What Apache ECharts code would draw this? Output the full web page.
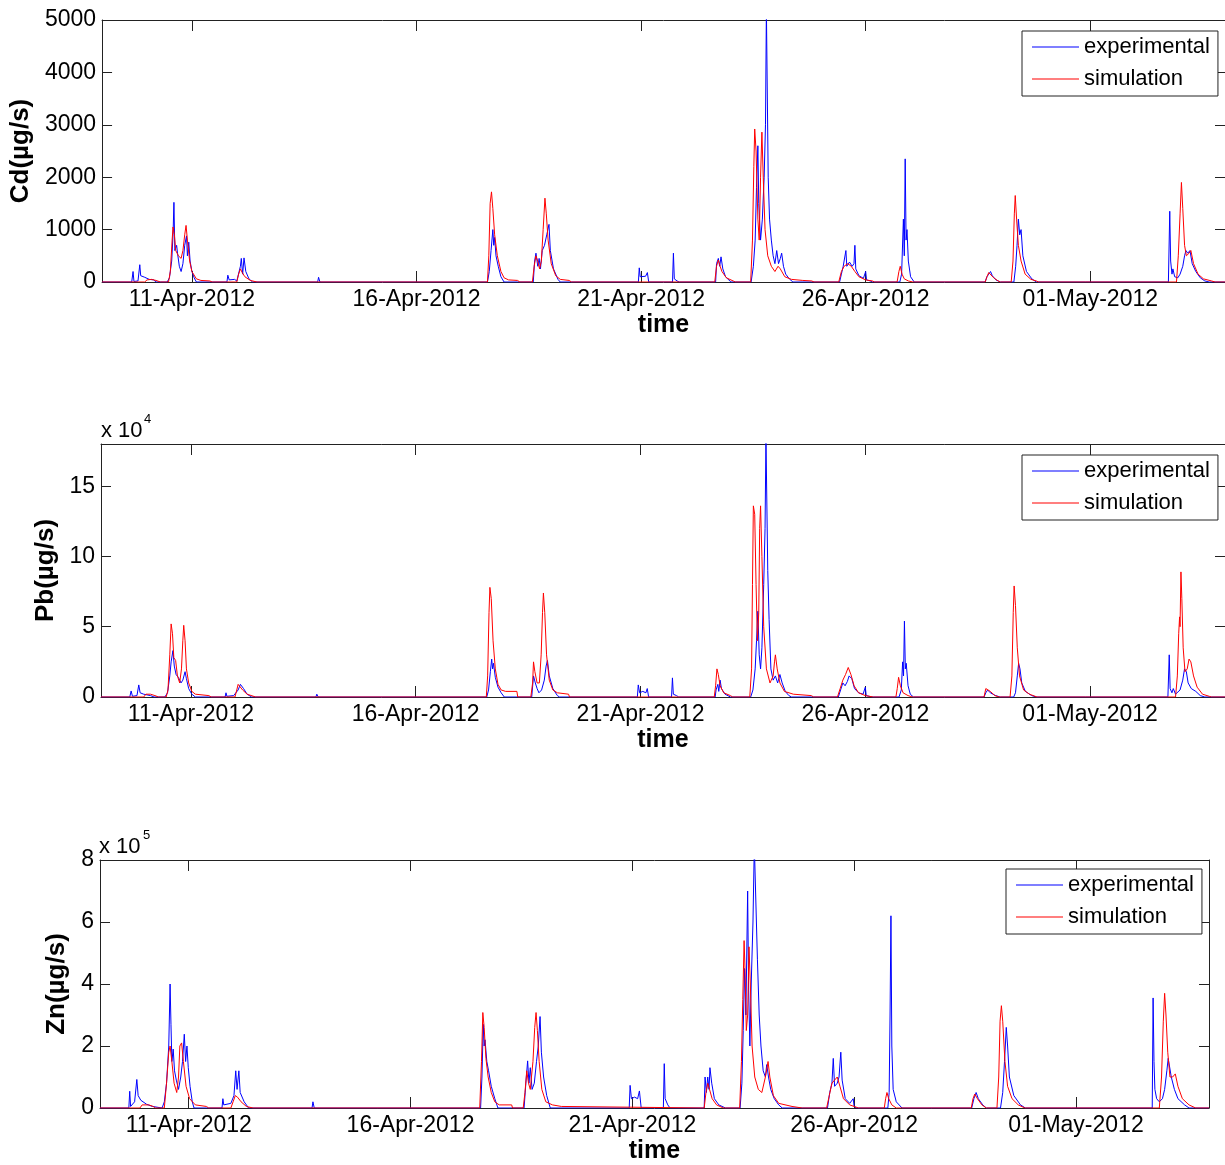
<!DOCTYPE html>
<html><head><meta charset="utf-8">
<script src="https://cdn.jsdelivr.net/npm/echarts@6/dist/echarts.min.js"></script>
<style>html,body{margin:0;padding:0;background:#fff}#c{width:1225px;height:1165px}</style>
</head><body><div id="c"></div>
<script>
// x values: days since 09-Apr-2012 00:00
const tickDays = [2, 7, 12, 17, 22];
const tickLabels = ['11-Apr-2012', '16-Apr-2012', '21-Apr-2012', '26-Apr-2012', '01-May-2012'];

const cdTicks = [0, 1000, 2000, 3000, 4000, 5000];
const pbTicks = [0, 5, 10, 15];   // x 10^4
const znTicks = [0, 2, 4, 6, 8];  // x 10^5

// Cd (µg/s)
const cdExp = [[0,0],
[0.66,0],[0.69,200],[0.71,10],[0.8,20],[0.84,330],[0.86,120],[0.95,90],[1.05,50],[1.15,40],[1.2,0],
[1.45,0],[1.5,80],[1.55,400],[1.58,900],[1.6,1520],[1.62,600],[1.66,700],[1.68,550],[1.72,300],[1.76,200],[1.8,350],[1.84,700],[1.88,880],[1.9,500],[1.93,760],[1.96,400],[2.0,200],[2.05,80],[2.1,0],
[2.78,0],[2.8,130],[2.83,40],[2.95,50],[3.0,20],[3.08,300],[3.1,450],[3.13,150],[3.16,460],[3.2,200],[3.27,60],[3.35,0],
[4.8,0],[4.82,90],[4.85,0],
[8.58,0],[8.62,200],[8.66,600],[8.7,1000],[8.72,700],[8.74,850],[8.77,500],[8.82,300],[8.88,100],[8.95,0],
[9.6,0],[9.63,400],[9.66,550],[9.7,300],[9.73,450],[9.76,250],[9.8,600],[9.85,700],[9.9,900],[9.95,1100],[9.98,600],[10.05,250],[10.15,50],[10.2,0],
[11.94,0],[11.96,270],[11.98,100],[12.02,120],[12.1,110],[12.14,180],[12.17,0],
[12.7,0],[12.72,550],[12.74,60],[12.8,20],[12.85,0],
[13.66,0],[13.68,350],[13.72,450],[13.75,300],[13.78,480],[13.82,250],[13.88,100],[14.0,0],
[14.45,0],[14.5,300],[14.54,800],[14.57,1800],[14.6,2600],[14.62,1500],[14.66,800],[14.7,1200],[14.74,2000],[14.77,3000],[14.79,5200],[14.81,5200],[14.83,2000],[14.86,1200],[14.9,800],[14.94,500],[14.98,350],[15.02,600],[15.06,350],[15.1,450],[15.13,550],[15.17,300],[15.22,150],[15.3,60],[15.38,0],
[16.42,0],[16.46,150],[16.5,300],[16.54,320],[16.56,600],[16.58,300],[16.64,380],[16.7,300],[16.74,350],[16.76,700],[16.78,250],[16.85,120],[16.95,70],[17.0,200],[17.02,40],[17.1,20],[17.15,0],
[17.76,0],[17.8,150],[17.84,1200],[17.86,500],[17.88,2350],[17.9,800],[17.92,1000],[17.95,400],[18.0,100],[18.08,0],
[19.66,0],[19.7,100],[19.74,150],[19.78,200],[19.82,120],[19.9,40],[20.0,0],
[20.3,0],[20.34,300],[20.37,700],[20.4,1200],[20.43,900],[20.46,1000],[20.5,500],[20.58,200],[20.7,60],[20.8,0],
[21.9,0],[21.92,30],[21.94,0],
[23.74,0],[23.77,1350],[23.79,400],[23.82,150],[23.84,250],[23.88,100],[23.95,80],[24.0,150],[24.06,300],[24.1,500],[24.13,600],[24.17,550],[24.22,600],[24.27,350],[24.35,200],[24.45,80],[24.55,20],[24.65,0],
[25,0]];
const cdSim = [[0,0],
[0.95,0],[1.0,40],[1.1,50],[1.2,30],[1.3,0],
[1.48,0],[1.52,200],[1.56,800],[1.58,1050],[1.61,900],[1.64,600],[1.7,500],[1.76,450],[1.8,600],[1.84,900],[1.87,1080],[1.9,800],[1.95,400],[2.0,200],[2.1,60],[2.2,30],[2.4,20],[2.45,0],
[3.0,0],[3.04,150],[3.08,250],[3.12,180],[3.18,100],[3.3,30],[3.45,0],
[8.58,0],[8.61,500],[8.64,1500],[8.67,1720],[8.7,1400],[8.74,900],[8.8,500],[8.88,200],[8.95,80],[9.05,40],[9.25,30],[9.3,0],
[9.58,0],[9.62,300],[9.66,500],[9.7,400],[9.74,250],[9.78,400],[9.82,1000],[9.86,1600],[9.89,1300],[9.93,800],[10.0,350],[10.1,120],[10.2,50],[10.4,30],[10.45,0],
[13.64,0],[13.68,300],[13.72,420],[13.76,300],[13.8,200],[13.9,80],[14.05,20],[14.1,0],
[14.44,0],[14.48,800],[14.51,2200],[14.53,2920],[14.56,2500],[14.6,1200],[14.63,800],[14.66,2000],[14.69,2860],[14.72,2000],[14.76,1000],[14.82,500],[14.9,300],[14.98,200],[15.05,300],[15.1,250],[15.2,100],[15.35,50],[15.6,30],[15.8,20],[15.85,0],
[16.4,0],[16.46,200],[16.52,300],[16.6,350],[16.68,300],[16.76,200],[16.85,100],[17.0,40],[17.15,20],[17.2,0],
[17.7,0],[17.74,200],[17.77,300],[17.81,150],[17.86,60],[17.95,20],[18.05,0],
[19.66,0],[19.7,100],[19.74,180],[19.78,150],[19.85,80],[19.95,20],[20.0,0],
[20.24,0],[20.28,400],[20.31,1300],[20.33,1650],[20.36,1200],[20.4,700],[20.46,400],[20.55,150],[20.68,50],[20.8,20],[20.85,0],
[23.92,0],[23.96,500],[24.0,1300],[24.03,1900],[24.06,1400],[24.1,700],[24.14,500],[24.2,550],[24.24,600],[24.3,350],[24.4,150],[24.52,60],[24.7,20],[24.78,0],
[25,0]];

// Pb (x 10^4 µg/s)
const pbExp = [[0,0],
[0.64,0],[0.67,0.43],[0.7,0.05],[0.8,0.1],[0.84,0.86],[0.87,0.3],[0.95,0.2],[1.1,0.1],[1.18,0],
[1.42,0],[1.48,0.3],[1.53,1.5],[1.56,2.5],[1.6,3.3],[1.63,2.2],[1.67,1.6],[1.72,1.4],[1.78,1.0],[1.82,1.2],[1.87,1.8],[1.9,1.3],[1.95,0.6],[2.02,0.2],[2.1,0],
[2.76,0],[2.78,0.3],[2.8,0.05],[2.95,0.1],[3.05,0.5],[3.1,0.9],[3.13,1.0],[3.17,0.6],[3.25,0.2],[3.35,0],
[4.78,0],[4.8,0.2],[4.83,0],
[8.58,0],[8.62,0.5],[8.66,1.8],[8.69,2.7],[8.71,2.0],[8.73,2.4],[8.77,1.4],[8.83,0.7],[8.9,0.3],[8.97,0],
[9.58,0],[9.62,1.5],[9.66,1.0],[9.7,0.6],[9.74,0.3],[9.8,0.5],[9.86,1.2],[9.9,2.2],[9.93,2.6],[9.97,1.5],[10.05,0.6],[10.15,0.1],[10.2,0],
[11.93,0],[11.95,0.86],[11.98,0.3],[12.05,0.4],[12.12,0.3],[12.15,0.6],[12.18,0],
[12.69,0],[12.71,1.36],[12.73,0.2],[12.8,0.1],[12.85,0],
[13.66,0],[13.68,0.5],[13.72,0.9],[13.74,0.4],[13.77,1.2],[13.8,0.6],[13.88,0.2],[14.0,0],
[14.45,0],[14.5,0.5],[14.55,2.0],[14.58,4.0],[14.61,6.1],[14.64,3.0],[14.67,2.0],[14.7,3.5],[14.74,8.0],[14.77,12],[14.79,18.5],[14.81,18.5],[14.83,9.0],[14.86,5.5],[14.9,2.0],[14.95,1.2],[15.0,1.5],[15.05,1.0],[15.1,1.6],[15.15,1.0],[15.22,0.4],[15.3,0.1],[15.36,0],
[16.4,0],[16.45,0.5],[16.5,1.0],[16.55,0.8],[16.6,1.1],[16.64,1.5],[16.7,1.3],[16.76,0.6],[16.85,0.3],[16.95,0.2],[17.0,0.7],[17.02,0.1],[17.15,0],
[17.75,0],[17.8,0.5],[17.83,2.5],[17.85,1.5],[17.87,5.4],[17.89,2.0],[17.91,2.4],[17.95,0.8],[18.0,0.2],[18.07,0],
[19.64,0],[19.68,0.3],[19.72,0.5],[19.78,0.3],[19.9,0.1],[20.0,0],
[20.3,0],[20.34,0.3],[20.38,1.5],[20.41,2.4],[20.44,2.0],[20.48,1.0],[20.56,0.4],[20.7,0.1],[20.8,0],
[21.9,0],[21.92,0.1],[21.94,0],
[23.73,0],[23.76,3.0],[23.78,0.6],[23.82,0.3],[23.85,0.6],[23.9,0.2],[24.0,0.5],[24.06,1.2],[24.1,2.0],[24.14,1.8],[24.18,1.0],[24.25,0.6],[24.35,0.4],[24.45,0.1],[24.55,0],
[25,0]];
const pbSim = [[0,0],
[0.95,0],[1.0,0.2],[1.1,0.2],[1.2,0.1],[1.28,0],
[1.45,0],[1.49,0.5],[1.53,3.0],[1.56,5.2],[1.59,4.5],[1.62,2.8],[1.66,2.6],[1.7,1.5],[1.75,1.0],[1.79,2.0],[1.82,4.0],[1.84,5.1],[1.87,4.0],[1.9,2.0],[1.95,1.0],[2.02,0.4],[2.1,0.2],[2.4,0.1],[2.45,0],
[2.98,0],[3.02,0.5],[3.05,0.9],[3.09,0.8],[3.15,0.5],[3.25,0.2],[3.44,0],
[8.57,0],[8.6,1.5],[8.63,6.0],[8.65,7.8],[8.68,7.0],[8.72,4.0],[8.77,2.0],[8.83,0.9],[8.9,0.5],[9.0,0.4],[9.25,0.4],[9.27,0],
[9.56,0],[9.6,1.0],[9.62,2.5],[9.65,1.8],[9.7,1.0],[9.75,1.0],[9.79,3.0],[9.82,6.0],[9.84,7.4],[9.87,6.0],[9.91,3.0],[9.97,1.2],[10.05,0.5],[10.15,0.3],[10.4,0.2],[10.42,0],
[13.64,0],[13.67,0.8],[13.7,2.0],[13.73,1.6],[13.77,0.8],[13.85,0.3],[14.0,0.1],[14.05,0],
[14.43,0],[14.47,2.0],[14.49,8.0],[14.51,13.6],[14.54,13.0],[14.57,8.0],[14.6,4.0],[14.63,6.0],[14.65,12.0],[14.67,13.6],[14.7,10.0],[14.74,5.0],[14.8,2.0],[14.88,1.0],[14.95,1.5],[14.98,2.5],[15.0,3.0],[15.04,2.0],[15.1,1.0],[15.2,0.4],[15.4,0.2],[15.8,0.1],[15.85,0],
[16.38,0],[16.44,0.6],[16.5,1.2],[16.56,1.6],[16.62,2.1],[16.68,1.6],[16.75,0.8],[16.85,0.3],[17.0,0.1],[17.18,0],
[17.68,0],[17.71,0.6],[17.74,1.4],[17.78,0.8],[17.84,0.3],[17.95,0.1],[18.05,0],
[19.64,0],[19.68,0.6],[19.72,0.7],[19.78,0.4],[19.88,0.1],[19.98,0],
[20.22,0],[20.26,1.5],[20.29,6.0],[20.31,7.9],[20.34,6.5],[20.38,3.5],[20.43,1.5],[20.52,0.5],[20.65,0.2],[20.82,0],
[23.9,0],[23.94,1.5],[23.97,4.5],[23.99,5.7],[24.0,5.0],[24.02,8.9],[24.04,7.0],[24.07,3.5],[24.11,1.8],[24.16,2.0],[24.2,2.7],[24.24,2.5],[24.3,1.5],[24.38,0.7],[24.5,0.2],[24.65,0.05],[24.7,0],
[25,0]];

// Zn (x 10^5 µg/s)
const znExp = [[0,0],
[0.65,0],[0.67,0.54],[0.69,0.05],[0.78,0.2],[0.83,0.92],[0.86,0.4],[0.92,0.25],[1.05,0.12],[1.18,0.05],[1.2,0],
[1.4,0],[1.45,0.2],[1.5,0.8],[1.55,2.0],[1.58,4.0],[1.6,2.7],[1.62,1.5],[1.65,1.9],[1.68,1.2],[1.72,0.9],[1.77,0.6],[1.82,1.0],[1.86,1.5],[1.9,2.38],[1.93,1.5],[1.96,2.0],[1.99,1.3],[2.03,0.7],[2.08,0.2],[2.12,0],
[2.75,0],[2.77,0.3],[2.79,0.1],[2.95,0.15],[3.02,0.4],[3.06,1.2],[3.09,0.6],[3.13,1.2],[3.16,0.5],[3.25,0.2],[3.35,0],
[4.78,0],[4.8,0.2],[4.83,0],
[8.58,0],[8.61,1.0],[8.64,2.7],[8.66,2.0],[8.68,2.2],[8.72,1.5],[8.76,1.2],[8.82,0.7],[8.9,0.3],[8.97,0],
[9.56,0],[9.6,0.8],[9.64,1.52],[9.67,0.8],[9.7,1.3],[9.74,0.6],[9.79,0.8],[9.84,1.5],[9.88,2.0],[9.92,2.95],[9.95,1.8],[10.0,1.0],[10.07,0.4],[10.15,0],
[11.93,0],[11.95,0.73],[11.98,0.3],[12.05,0.35],[12.12,0.3],[12.16,0.55],[12.2,0],
[12.7,0],[12.72,1.43],[12.74,0.3],[12.8,0.1],[12.85,0],
[13.62,0],[13.64,1.0],[13.67,0.5],[13.7,1.0],[13.73,0.6],[13.75,1.3],[13.79,0.8],[13.85,0.3],[13.95,0.1],[14.1,0],
[14.43,0],[14.47,0.8],[14.5,2.5],[14.53,4.5],[14.56,3.0],[14.6,7.0],[14.62,4.0],[14.65,2.0],[14.68,4.0],[14.72,6.0],[14.75,8.5],[14.79,8.5],[14.82,4.8],[14.86,3.0],[14.9,2.0],[14.95,1.2],[15.0,1.0],[15.03,1.4],[15.07,1.0],[15.12,0.6],[15.2,0.3],[15.3,0.1],[15.38,0],
[16.4,0],[16.45,0.5],[16.5,0.8],[16.53,1.6],[16.56,0.7],[16.62,0.8],[16.66,1.0],[16.7,1.8],[16.73,0.9],[16.8,0.3],[16.9,0.15],[16.98,0.3],[17.0,0.05],[17.05,0],
[17.76,0],[17.79,0.5],[17.81,3.0],[17.83,6.2],[17.85,2.0],[17.88,0.6],[17.95,0.2],[18.08,0],
[19.65,0],[19.7,0.3],[19.75,0.5],[19.8,0.3],[19.9,0.1],[19.98,0],
[20.3,0],[20.35,0.5],[20.39,1.5],[20.43,2.6],[20.46,2.0],[20.5,1.0],[20.6,0.4],[20.75,0.1],[20.86,0],
[21.9,0],[21.92,0.05],[21.94,0],
[23.72,0],[23.74,3.55],[23.76,1.5],[23.78,0.6],[23.82,0.3],[23.88,0.2],[23.95,0.3],[24.0,0.6],[24.05,1.2],[24.08,1.6],[24.12,1.6],[24.15,1.0],[24.22,0.6],[24.3,0.3],[24.45,0.1],[24.55,0],
[25,0]];
const znSim = [[0,0],
[0.9,0],[0.95,0.1],[1.1,0.1],[1.2,0.05],[1.25,0],
[1.45,0],[1.5,0.8],[1.55,1.8],[1.58,2.0],[1.62,1.5],[1.67,0.8],[1.73,0.5],[1.77,1.0],[1.8,2.0],[1.84,2.1],[1.88,1.5],[1.94,0.7],[2.02,0.3],[2.15,0.1],[2.4,0.05],[2.45,0],
[2.95,0],[3.0,0.2],[3.05,0.4],[3.1,0.35],[3.18,0.2],[3.3,0.05],[3.45,0],
[8.56,0],[8.6,1.5],[8.63,3.08],[8.66,2.6],[8.7,1.6],[8.75,1.0],[8.82,0.5],[8.9,0.2],[9.0,0.1],[9.28,0.1],[9.3,0],
[9.54,0],[9.58,0.5],[9.62,1.2],[9.66,0.8],[9.7,0.6],[9.76,1.5],[9.8,2.6],[9.83,3.08],[9.86,2.5],[9.9,1.5],[9.96,0.6],[10.05,0.2],[10.2,0.1],[10.4,0.05],[10.42,0],
[13.62,0],[13.66,0.5],[13.7,0.8],[13.74,0.6],[13.8,0.3],[13.9,0.1],[14.05,0],
[14.42,0],[14.46,1.5],[14.49,3.5],[14.52,5.4],[14.54,4.5],[14.57,2.5],[14.6,3.0],[14.63,5.2],[14.66,4.0],[14.7,2.0],[14.76,1.0],[14.84,0.6],[14.92,0.5],[15.0,1.0],[15.06,1.5],[15.1,1.0],[15.18,0.4],[15.3,0.15],[15.6,0.05],[15.83,0],
[16.38,0],[16.44,0.4],[16.5,0.8],[16.56,0.9],[16.62,1.0],[16.68,0.7],[16.76,0.3],[16.9,0.1],[17.0,0.05],[17.1,0],
[17.68,0],[17.71,0.3],[17.74,0.5],[17.78,0.3],[17.85,0.1],[17.95,0],
[19.64,0],[19.68,0.3],[19.72,0.45],[19.78,0.3],[19.88,0.1],[19.98,0],
[20.22,0],[20.26,1.0],[20.29,2.8],[20.32,3.3],[20.35,2.8],[20.4,1.5],[20.46,0.7],[20.56,0.3],[20.7,0.1],[20.85,0],
[23.88,0],[23.93,1.0],[23.97,2.8],[24.0,3.7],[24.03,3.0],[24.07,1.8],[24.12,1.0],[24.18,1.0],[24.24,1.1],[24.3,0.7],[24.4,0.3],[24.55,0.1],[24.7,0],
[25,0]];

const FONT = "'Liberation Sans', Arial, sans-serif";
const BLUE = '#0000ff', RED = '#ff0000', AX = '#222';

const panels = [
  {grid:{left:101, top:20, width:1125, height:262}, yMax:5000, yTicks:cdTicks, yName:'Cd(µg/s)', nameGap:64, exp:cdExp, sim:cdSim, legend:{left:1022, top:31}},
  {grid:{left:101, top:444, width:1125, height:253}, yMax:18, yTicks:pbTicks, yName:'Pb(µg/s)', nameGap:37, exp:pbExp, sim:pbSim, legend:{left:1022, top:455}},
  {grid:{left:100, top:860, width:1109, height:252}, yMax:8, yTicks:znTicks, yName:'Zn(µg/s)', nameGap:25, exp:znExp, sim:znSim, legend:{left:1006, top:869}}
];

const grid = [], xAxis = [], yAxis = [], series = [], legend = [];
panels.forEach((p, i) => {
  grid.push(Object.assign({containLabel:false}, p.grid));
  const baseX = {type:'value', gridIndex:i, min:0, max:25, splitLine:{show:false},
    axisLine:{show:true, onZero:false, lineStyle:{color:AX, width:1}}};
  xAxis.push(Object.assign({}, baseX, {position:'bottom',
    name:'time', nameLocation:'middle', nameGap:31,
    nameTextStyle:{fontSize:25, fontWeight:'bold', color:'#000', fontFamily:FONT},
    axisTick:{inside:true, length:11, customValues:tickDays, lineStyle:{color:AX}},
    axisLabel:{customValues:tickDays, margin:6, fontSize:23, color:'#000', fontFamily:FONT,
      formatter:v => tickLabels[tickDays.indexOf(Math.round(v))] || ''}}));
  xAxis.push(Object.assign({}, baseX, {position:'top',
    axisTick:{inside:true, length:11, customValues:tickDays, lineStyle:{color:AX}},
    axisLabel:{show:false}}));
  const baseY = {type:'value', gridIndex:i, min:0, max:p.yMax, splitLine:{show:false},
    axisLine:{show:true, onZero:false, lineStyle:{color:AX, width:1}}};
  yAxis.push(Object.assign({}, baseY, {position:'left',
    name:p.yName, nameLocation:'middle', nameRotate:90, nameGap:p.nameGap,
    nameTextStyle:{fontSize:26, fontWeight:'bold', color:'#000', fontFamily:FONT},
    axisTick:{inside:true, length:10, customValues:p.yTicks, lineStyle:{color:AX}},
    axisLabel:{customValues:p.yTicks, margin:6, fontSize:23, color:'#000', fontFamily:FONT,
      formatter:v => String(v)}}));
  yAxis.push(Object.assign({}, baseY, {position:'right',
    axisTick:{inside:true, length:10, customValues:p.yTicks, lineStyle:{color:AX}},
    axisLabel:{show:false}}));
  series.push({name:'experimental', type:'line', xAxisIndex:2*i, yAxisIndex:2*i, data:p.exp,
    symbol:'none', showSymbol:false, color:BLUE, itemStyle:{color:BLUE}, lineStyle:{color:BLUE, width:1}, clip:true, silent:true});
  series.push({name:'simulation', type:'line', xAxisIndex:2*i, yAxisIndex:2*i, data:p.sim,
    symbol:'none', showSymbol:false, color:RED, itemStyle:{color:RED}, lineStyle:{color:RED, width:1}, clip:true, silent:true});
  legend.push({data:['experimental','simulation'], orient:'vertical', left:p.legend.left, top:p.legend.top,
    icon:'rect', itemWidth:47, itemHeight:1, itemGap:10, padding:[5, 8, 6, 10],
    borderColor:AX, borderWidth:1, backgroundColor:'#fff', selectedMode:false,
    textStyle:{fontSize:22, color:'#000', fontFamily:FONT}});
});

const chart = echarts.init(document.getElementById('c'), null, {renderer:'canvas'});
chart.setOption({
  animation:false, backgroundColor:'#fff',
  grid, xAxis, yAxis, series, legend,
  graphic:[
    {type:'text', left:101, top:420, style:{text:'x 10', fontSize:22, fill:'#000', fontFamily:FONT}},
    {type:'text', left:144, top:413, style:{text:'4', fontSize:13, fill:'#000', fontFamily:FONT}},
    {type:'text', left:99, top:836, style:{text:'x 10', fontSize:22, fill:'#000', fontFamily:FONT}},
    {type:'text', left:143, top:829, style:{text:'5', fontSize:13, fill:'#000', fontFamily:FONT}}
  ]
});
</script>
</body></html>
